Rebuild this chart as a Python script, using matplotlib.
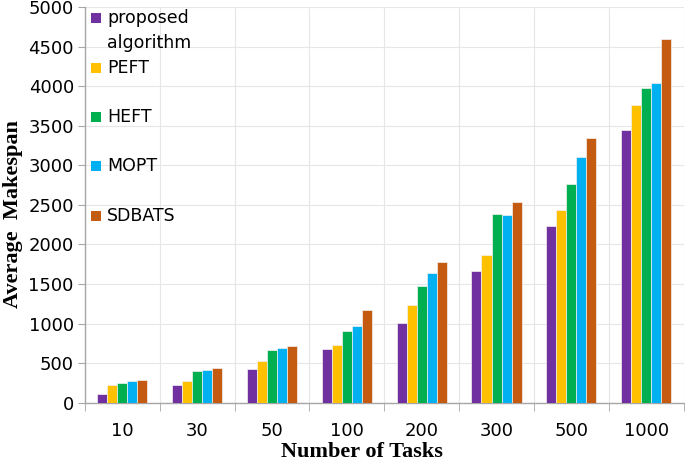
import numpy as np
import matplotlib.pyplot as plt
from matplotlib.ticker import FixedLocator
from matplotlib.patches import Rectangle

tasks = ["10", "30", "50", "100", "200", "300", "500", "1000"]
proposed = [110, 225, 425, 680, 1005, 1665, 2235, 3440]
peft = [227, 273, 526, 732, 1235, 1865, 2432, 3765]
heft = [252, 400, 665, 908, 1475, 2385, 2768, 3980]
mopt = [278, 412, 698, 975, 1637, 2372, 3108, 4040]
sdbats = [286, 441, 723, 1174, 1776, 2542, 3350, 4600]

names = ["proposed\nalgorithm", "PEFT", "HEFT", "MOPT", "SDBATS"]
colors = ["#7030A0", "#FFC000", "#00B050", "#00B0F0", "#C55A11"]

fig = plt.figure(figsize=(6.85, 4.62), dpi=100)
ax = fig.add_axes([0.124, 0.128, 0.874, 0.857])

x = np.arange(len(tasks))
w = 0.134
for i, vals in enumerate([proposed, peft, heft, mopt, sdbats]):
    ax.bar(x + (i - 2) * w, vals, w, color=colors[i], label=names[i],
           edgecolor="#f2f2f2", linewidth=0.5, zorder=3)

ax.set_xlim(-0.5, len(tasks) - 0.5)
ax.set_ylim(0, 5000)
ax.set_yticks(np.arange(0, 5001, 500))
ax.set_xticks(x)
ax.set_xticklabels(tasks)
ax.xaxis.set_minor_locator(FixedLocator(np.arange(-0.5, len(tasks), 1)))

ax.grid(axis="y", color="#e6e6e6", linewidth=0.8, zorder=0)
ax.grid(axis="x", which="minor", color="#e6e6e6", linewidth=0.8, zorder=0)

for s in ["top", "right"]:
    ax.spines[s].set_visible(False)
for s in ["left", "bottom"]:
    ax.spines[s].set_color("#a6a6a6")
    ax.spines[s].set_linewidth(1.0)

ax.tick_params(axis="x", which="major", length=0, pad=14, labelsize=13)
ax.tick_params(axis="x", which="minor", length=6, color="#a6a6a6", direction="out")
ax.tick_params(axis="y", length=5, color="#a6a6a6", pad=3, labelsize=13)

ax.set_xlabel("Number of Tasks", family="Liberation Serif", weight="bold", fontsize=16)
ax.set_ylabel("Average  Makespan", family="Liberation Serif", weight="bold", fontsize=16)
ax.xaxis.set_label_coords(0.4625, -0.098)
ax.yaxis.set_label_coords(-0.104, 0.476)

# legend drawn by hand, spaced like the original
leg_y = [18, 68, 117, 166, 216]  # pixel rows from the top of the figure
for name, c, yp in zip(names, colors, leg_y):
    ya = (403 - yp) / 396
    ax.add_patch(Rectangle((0.01, ya - 0.0126), 0.0167, 0.0252, transform=ax.transAxes,
                           facecolor=c, edgecolor="none", clip_on=False, zorder=5))
    lines = name.split("\n")
    for k, ln in enumerate(lines):
        ax.text(0.0367, ya - k * 25 / 396, ln, transform=ax.transAxes, va="center",
                ha="left", fontsize=12.5, zorder=5)

plt.savefig("out.png", dpi=100)
